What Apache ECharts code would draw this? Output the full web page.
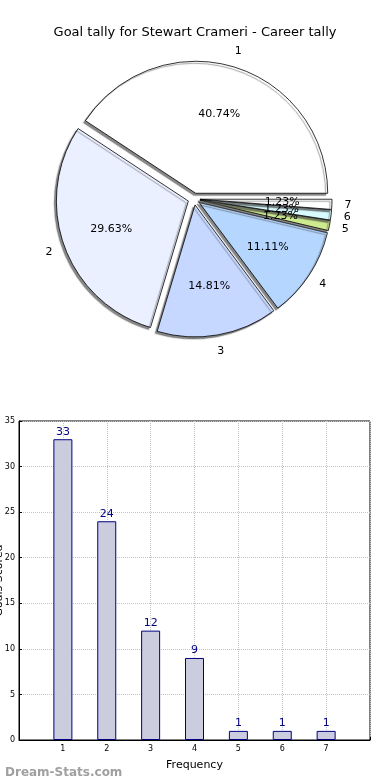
<!DOCTYPE html>
<html>
<head>
<meta charset="utf-8">
<script src="https://cdn.jsdelivr.net/npm/echarts@6/dist/echarts.min.js"></script>
<style>
html,body{margin:0;padding:0;background:#fff;}
#c{width:390px;height:780px;}
</style>
</head>
<body>
<div id="c"></div>
<script>
const categories = ['1','2','3','4','5','6','7'];
const goalValues = [33,24,12,9,1,1,1];
const sliceColors = ['#ffffff','#eaf0ff','#c6d8ff','#b5d7ff','#cdea8e','#d8fbff','#ffffff'];
const yTicks = [0,5,10,15,20,25,30,35];
const titleText = 'Goal tally for Stewart Crameri - Career tally';
const xName = 'Frequency';
const yName = 'Goals Scored';
const watermark = 'Dream-Stats.com';

const FONT = 'DejaVu Sans';
const CX = 194, CY = 199, R = 132, OFF = 6;
const total = goalValues.reduce((a,b)=>a+b,0);

const pieData = categories.map((c,i)=>({
  name:c, value:goalValues[i], selected:true,
  itemStyle:{color:sliceColors[i]}
}));
const ghostData = categories.map((c,i)=>({name:c, value:goalValues[i], selected:true}));

const base = {
  type:'pie', center:[CX,CY], startAngle:0, clockwise:false,
  selectedMode:'multiple', selectedOffset:OFF, silent:true,
  avoidLabelOverlap:false, labelLayout:{hideOverlap:false},
  animation:false, labelLine:{show:false}, emphasis:{disabled:true}
};

const chart = echarts.init(document.getElementById('c'), null, {renderer:'canvas'});
chart.setOption({
  animation:false,
  title:[
    {text:titleText, left:'center', top:21, textStyle:{fontFamily:FONT, fontSize:13, fontWeight:'normal', color:'#000'}},
    {text:watermark, left:0, top:762, textStyle:{fontFamily:FONT, fontSize:12, fontWeight:'bold', color:'#a0a0a0'}}
  ],
  grid:{left:19, right:20, top:421, bottom:40, show:true, borderColor:'#000', borderWidth:1,
        containLabel:false, outerBoundsMode:'none'},
  xAxis:{
    type:'value', min:0, max:8, interval:1,
    name:xName, nameLocation:'middle', nameGap:20, nameMoveOverlap:false,
    nameTextStyle:{fontFamily:FONT, fontSize:11, color:'#000'},
    axisLine:{show:true, lineStyle:{color:'#000'}},
    axisTick:{show:true, inside:true, length:3, lineStyle:{color:'#000'}},
    axisLabel:{fontFamily:FONT, fontSize:8, color:'#000', margin:5,
      formatter:v=> (v>=1 && v<=categories.length) ? categories[v-1] : ''},
    splitLine:{show:true, lineStyle:{color:'#c4c4c4', type:'dotted', width:1}}
  },
  yAxis:{
    type:'value', min:yTicks[0], max:yTicks[yTicks.length-1], interval:5,
    name:yName, nameLocation:'middle', nameGap:14, nameMoveOverlap:false,
    nameTextStyle:{fontFamily:FONT, fontSize:11, color:'#000'},
    axisLine:{show:true, lineStyle:{color:'#000'}},
    axisTick:{show:true, inside:true, length:3, lineStyle:{color:'#000'}},
    axisLabel:{fontFamily:FONT, fontSize:8, color:'#000', margin:4},
    splitLine:{show:true, lineStyle:{color:'#c4c4c4', type:'dotted', width:1}}
  },
  series:[
    Object.assign({}, base, {
      radius:R,
      data:pieData,
      label:{show:false},
      itemStyle:{borderColor:'#000', borderWidth:0.8,
        shadowColor:'rgba(70,70,70,0.65)', shadowBlur:1, shadowOffsetX:-2, shadowOffsetY:2}
    }),
    Object.assign({}, base, {
      radius:R*1.2,
      data:ghostData,
      itemStyle:{color:'rgba(0,0,0,0)', borderWidth:0},
      label:{show:true, position:'inside', formatter:p=>(p.value/total*100).toFixed(2)+'%',
        fontFamily:FONT, fontSize:11, color:'#000'}
    }),
    Object.assign({}, base, {
      radius:[R, R*1.2],
      data:ghostData,
      itemStyle:{color:'rgba(0,0,0,0)', borderWidth:0},
      label:{show:true, position:'inside', formatter:'{b}', fontFamily:FONT, fontSize:11, color:'#000'}
    }),
    {
      type:'bar', silent:true, barWidth:19,
      data:goalValues.map((v,i)=>[i+1, v]),
      itemStyle:{color:'#ccccdf', borderColor:'#000080', borderWidth:1},
      label:{show:true, position:'top', distance:2, formatter:p=>p.value[1], fontFamily:FONT, fontSize:11, color:'#000080'}
    }
  ]
});
</script>
</body>
</html>
